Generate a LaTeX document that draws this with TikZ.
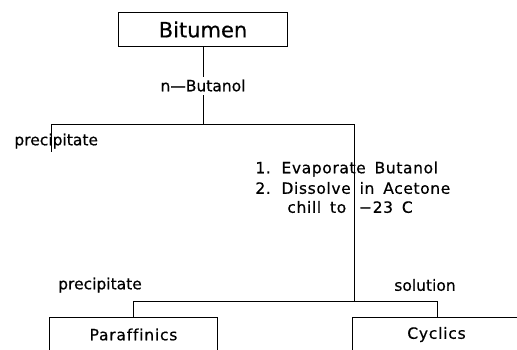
\documentclass[tikz,border=0pt]{standalone}
\usepackage{fontspec}
\setmainfont{DejaVu Sans}
% plotter-like lettering: plain sans, slightly heavy, no ligatures
\newfontfamily\plotfont[Ligatures=NoCommon,FakeBold=0.5]{DejaVu Sans}
\newfontfamily\boxfont[Ligatures=NoCommon,FakeBold=0.5,LetterSpace=5]{DejaVu Sans}
\newfontfamily\listfont[Ligatures=NoCommon,FakeBold=0.5,LetterSpace=4,WordSpace=1.6]{DejaVu Sans}
\newfontfamily\titlefont[FakeBold=0.5]{DejaVu Sans}
\begin{document}
\begin{tikzpicture}[x=1pt,y=-1pt,line width=0.8pt,
  box/.style={draw,line width=1pt,inner sep=0pt,anchor=north west,
    minimum width=168pt,minimum height=34pt,
    font=\boxfont\fontsize{15.5}{18}\selectfont},
  lbl/.style={font=\plotfont\fontsize{15.5}{18}\selectfont,inner sep=1pt},
  steptext/.style={font=\listfont\fontsize{15.5}{19}\selectfont,inner sep=0pt,anchor=west}]
\clip (0,0) rectangle (517,349);
\fill[white] (0,0) rectangle (517,349);

% feed
\node[box,minimum width=169pt,font=\titlefont\fontsize{21}{25}\selectfont] (bit) at (118,12) {Bitumen};

% n-butanol split
\coordinate (j1) at (203,124);
\draw (bit.south) -- node[lbl,fill=white,inner sep=3pt] (nb) {n\textemdash Butanol} (j1);
\coordinate (pl) at (51,124);
\coordinate (pr) at (354,124);
\draw (pl) -- (pr);
\node[lbl,anchor=west] (prec1) at (13,141) {precipitate};
\coordinate (ple) at (51,152);
\draw (pl) -- (ple);

% acetone step
\node[steptext] (s1) at (255,169) {1. Evaporate Butanol};
\node[steptext] (s2) at (255,188) {2. Dissolve in Acetone};
\node[steptext] (s3) at (287,207) {chill to\hspace{4pt} \textminus 23 C};
\coordinate (j2) at (354,301);
\draw (pr) -- (j2);

% products
\node[lbl] (prec2) at (100,285) {precipitate};
\node[lbl] (sol) at (425,285) {solution};
\coordinate (bl) at (133,301);
\coordinate (br) at (437,301);
\draw (bl) -- (br);
\node[box] (par) at (49,317) {Paraffinics};
\node[box] (cyc) at (352,317) {Cyclics};
\draw (bl) -- (bl |- par.north);
\draw (br) -- (br |- cyc.north);
\end{tikzpicture}
\end{document}
